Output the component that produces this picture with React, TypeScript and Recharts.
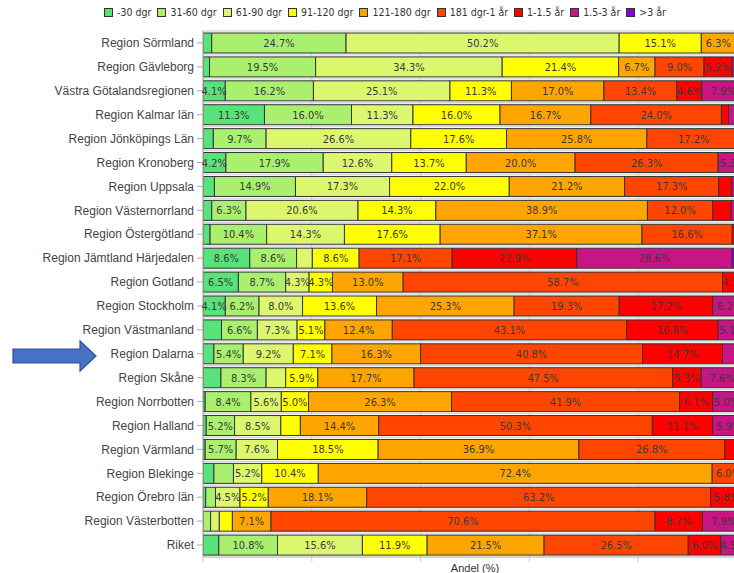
import React from 'react';
import { BarChart, Bar, XAxis, YAxis, CartesianGrid, LabelList, Legend } from 'recharts';

const categories = [
  'Region Sörmland', 'Region Gävleborg', 'Västra Götalandsregionen', 'Region Kalmar län',
  'Region Jönköpings Län', 'Region Kronoberg', 'Region Uppsala', 'Region Västernorrland',
  'Region Östergötland', 'Region Jämtland Härjedalen', 'Region Gotland', 'Region Stockholm',
  'Region Västmanland', 'Region Dalarna', 'Region Skåne', 'Region Norrbotten', 'Region Halland',
  'Region Värmland', 'Region Blekinge', 'Region Örebro län', 'Region Västerbotten', 'Riket',
];

const seriesNames = ['-30 dgr', '31-60 dgr', '61-90 dgr', '91-120 dgr', '121-180 dgr', '181 dgr-1 år', '1-1.5 år', '1.5-3 år', '>3 år'];
const seriesColors = ['#58E27A', '#A8F06E', '#DCF66E', '#FFFF00', '#FFA500', '#FF4500', '#FF0000', '#C71585', '#8A00D8'];

const d0_30 = [1.6, 1.2, 4.1, 11.3, 1.9, 4.2, 2.1, 1.6, 1.3, 8.6, 6.5, 4.1, 3.4, 2.0, 3.3, 0.4, 0.6, 0.4, 2.0, 0.5, 0, 2.9];
const d31_60 = [24.7, 19.5, 16.2, 16.0, 9.7, 17.9, 14.9, 6.3, 10.4, 8.6, 8.7, 6.2, 6.6, 5.4, 8.3, 8.4, 5.2, 5.7, 3.6, 1.8, 1.4, 10.8];
const d61_90 = [50.2, 34.3, 25.1, 11.3, 26.6, 12.6, 17.3, 20.6, 14.3, 2.9, 4.3, 8.0, 7.3, 9.2, 3.6, 5.6, 8.5, 7.6, 5.2, 4.5, 1.6, 15.6];
const d91_120 = [15.1, 21.4, 11.3, 16.0, 17.6, 13.7, 22.0, 14.3, 17.6, 8.6, 4.3, 13.6, 5.1, 7.1, 5.9, 5.0, 3.6, 18.5, 10.4, 5.2, 2.4, 11.9];
const d121_180 = [6.3, 6.7, 17.0, 16.7, 25.8, 20.0, 21.2, 38.9, 37.1, 0, 13.0, 25.3, 12.4, 16.3, 17.7, 26.3, 14.4, 36.9, 72.4, 18.1, 7.1, 21.5];
const d181_1y = [1.5, 9.0, 13.4, 24.0, 17.2, 26.3, 17.3, 12.0, 16.6, 17.1, 58.7, 19.3, 43.1, 40.8, 47.5, 41.9, 50.3, 26.8, 6.0, 63.2, 70.6, 26.5];
const d1_15y = [0.6, 5.2, 4.6, 1.3, 0.6, 0, 2.4, 3.4, 1.5, 22.9, 4.3, 17.2, 16.8, 14.7, 5.3, 6.1, 11.1, 2.6, 0.4, 5.8, 8.7, 6.0];
const d15_3y = [0, 2.7, 7.9, 3.4, 0.6, 5.3, 2.8, 2.9, 1.2, 28.6, 0, 6.2, 5.1, 3.2, 7.6, 5.0, 5.9, 1.5, 0, 0.9, 7.9, 4.5];
const dOver3y = [0, 0, 0.4, 0, 0, 0, 0, 0, 0, 2.9, 0, 0.1, 0.2, 1.3, 0.8, 1.3, 0.4, 0, 0, 0, 0.3, 0.3];

const xTicks = [0, 20, 40, 60, 80, 100];

const seriesValues = [d0_30, d31_60, d61_90, d91_120, d121_180, d181_1y, d1_15y, d15_3y, dOver3y];
const keys = seriesNames.map((_, i) => `s${i}`);

const data = categories.map((name, r) => {
  const row: Record<string, any> = { name };
  seriesValues.forEach((vals, i) => {
    row[keys[i]] = vals[r];
  });
  return row;
});

const NARROW = "'Liberation Sans Narrow', 'Arial Narrow', 'DejaVu Sans Condensed', sans-serif";
const SANS = "'Liberation Sans', Arial, sans-serif";

const renderLabel = (props: any) => {
  const { x, y, width, height, value } = props;
  if (value == null || value < 4) return null;
  return (
    <text
      x={x + width / 2}
      y={y + height / 2 + 0.5}
      textAnchor="middle"
      dominantBaseline="central"
      fontSize={11}
      fontFamily={NARROW}
      fill="#3a3a3a"
    >
      {`${Number(value).toFixed(1)}%`}
    </text>
  );
};

const LegendContent = () => (
  <div
    style={{
      width: 770,
      display: 'flex',
      justifyContent: 'center',
      alignItems: 'center',
      gap: 6,
      fontFamily: NARROW,
      fontSize: 10.5,
      color: '#333',
      lineHeight: '14px',
      whiteSpace: 'nowrap',
    }}
  >
    {seriesNames.map((n, i) => (
      <div key={n} style={{ display: 'flex', alignItems: 'center' }}>
        <span
          style={{
            display: 'inline-block',
            width: 7,
            height: 7,
            background: seriesColors[i],
            border: '1px solid #333',
            marginRight: 4,
          }}
        />
        <span>{n}</span>
      </div>
    ))}
  </div>
);

const Arrow = () => (
  <svg width={110} height={40} style={{ position: 'absolute', left: 0, top: 336 }}>
    <polygon
      points="13,13 80,13 80,5 96,20 80,35 80,27 13,27"
      fill="#4472C4"
      stroke="#2F528F"
      strokeWidth={1.2}
    />
  </svg>
);

export default function App() {
  return (
    <div
      style={{
        position: 'absolute',
        left: 0,
        top: 0,
        width: 734,
        height: 573,
        overflow: 'hidden',
        background: '#fff',
      }}
    >
      <BarChart
        width={762}
        height={573}
        data={data}
        layout="vertical"
        margin={{ top: 31, right: 15, bottom: 0, left: 0 }}
        barSize={20}
      >
        <CartesianGrid
          stroke="#d8d8d8"
          strokeWidth={1.3}
          horizontalCoordinatesGenerator={({ offset }: any) =>
            categories.map((_, i) => offset.top + (i * offset.height) / categories.length).concat([offset.top + offset.height])
          }
        />
        <XAxis
          type="number"
          domain={[0, 100]}
          ticks={xTicks}
          allowDataOverflow
          height={16}
          tick={() => <g />}
          tickSize={5}
          tickLine={{ stroke: '#c8c8c8' }}
          axisLine={{ stroke: '#c8c8c8' }}
          label={{ value: 'Andel (%)', position: 'insideBottom', offset: 1, fontSize: 11, fill: '#333', fontFamily: SANS }}
        />
        <YAxis
          type="category"
          dataKey="name"
          width={203}
          interval={0}
          tickSize={6}
          tickMargin={3}
          tick={{ fontSize: 12, fill: '#444', fontFamily: SANS }}
          tickLine={{ stroke: '#aaa' }}
          axisLine={{ stroke: '#aaa' }}
        />
        <Legend
          verticalAlign="middle"
          align="center"
          layout="horizontal"
          content={<LegendContent />}
          wrapperStyle={{ position: 'absolute', top: 5, left: 0, width: 770, height: 14 }}
        />
        {keys.map((k, i) => (
          <Bar
            key={k}
            dataKey={k}
            name={seriesNames[i]}
            stackId="a"
            fill={seriesColors[i]}
            stroke="#333"
            strokeWidth={1}
            isAnimationActive={false}
          >
            <LabelList dataKey={k} content={renderLabel} />
          </Bar>
        ))}
      </BarChart>
      <Arrow />
    </div>
  );
}
